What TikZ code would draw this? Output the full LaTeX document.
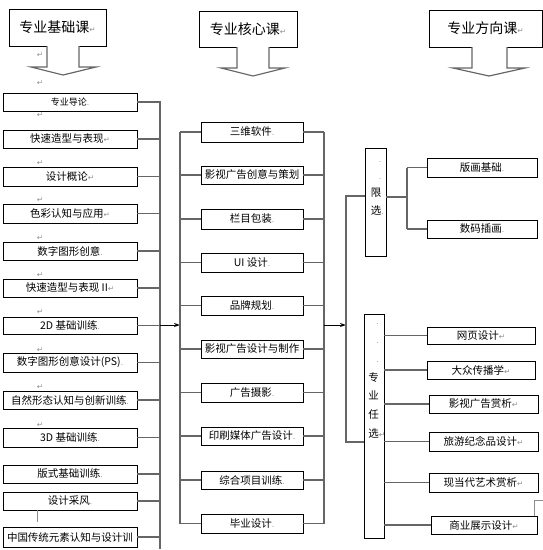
\documentclass[tikz,border=0pt]{standalone}
\usepackage{fontspec}
\setmainfont{Noto Sans CJK SC}
\newfontfamily\dvsfont{DejaVu Sans}
\usetikzlibrary{arrows.meta}
\definecolor{ln}{gray}{0.40}
\definecolor{mk}{gray}{0.55}
\newcommand{\rmk}{{\color{mk}\dvsfont\fontsize{7.5}{7.5}\selectfont ↵}}
\newcommand{\dmk}{{\color{mk}\dvsfont\fontsize{7.5}{7.5}\selectfont .}}
\newcommand{\dline}{\makebox[10.5pt][r]{\dmk}}
\begin{document}
\begin{tikzpicture}[x=1pt,y=-1pt,
  hdr/.style={draw, line width=0.8pt, inner sep=0pt, font=\fontsize{14}{14}\selectfont},
  bx/.style={draw, line width=0.8pt, inner sep=0pt, font=\fontsize{10.5}{10.5}\selectfont},
  vtxt/.style={inner sep=0pt, align=center, font=\fontsize{10.5}{17.3}\selectfont},
  conn/.style={draw=ln, line width=1.4pt},
  arr/.style={-{Stealth[length=6pt,width=4pt]}},
  blk/.style={draw=ln, line width=1.2pt, fill=white, line join=miter},
  pmark/.style={inner sep=0pt}]
\useasboundingbox (0,0) rectangle (543,550);

% headers
\node[hdr, minimum width=97pt, minimum height=37pt] (H1) at (57.5,27.5) {专业基础课\rmk};
\node[hdr, minimum width=98pt, minimum height=36pt] (H2) at (248,29) {专业核心课\rmk};
\node[hdr, minimum width=113pt, minimum height=37pt] (H3) at (485.5,28.5) {专业方向课\rmk};

% block arrows
\draw[blk] (47,46) -- (47,67) -- (31,67) -- (63,75) -- (96,67) -- (79,67) -- (79,46);
\draw[blk] (237,47) -- (237,68) -- (221,68) -- (253,76) -- (285,68) -- (269,68) -- (269,47);
\draw[blk] (472,47) -- (472,68) -- (453,68) -- (489,76) -- (525,68) -- (507,68) -- (507,47);

% left column
\begin{scope}[every node/.style={bx, minimum width=134pt, minimum height=18pt}]
\node[font=\fontsize{9}{9}\selectfont] (L1) at (70,102) {专业导论\dmk};
\node (L2) at (70,139) {快速造型与表现\rmk};
\node[minimum height=19pt] (L3) at (70,176.5) {设计概论\rmk};
\node[minimum height=19pt] (L4) at (70,213.5) {色彩认知与应用\rmk};
\node (L5) at (70,251) {数字图形创意\dmk};
\node (L6) at (70,288) {快速造型与表现 II\rmk};
\node[minimum height=17pt] (L7) at (70,325.5) {2D 基础训练\dmk};
\node[minimum height=19pt] (L8) at (70,362.5) {数字图形创意设计(PS)\dmk};
\node (L9) at (70,400) {自然形态认知与创新训练\dmk};
\node[minimum height=19pt] (L10) at (70,437.5) {3D 基础训练\dmk};
\node (L11) at (70,474) {版式基础训练\dmk};
\node (L12) at (70,501) {设计采风\dmk};
\node[minimum height=20pt] (L13) at (70,537) {中国传统元素认知与设计训};
\end{scope}

% paragraph marks between left boxes
\foreach \y [count=\k] in {55,83,115,163,200,238,275,312,350,387,425}
  \node[pmark] (pm\k) at (40,\y) {\rmk};

% middle column
\begin{scope}[every node/.style={bx, minimum width=102pt, minimum height=19pt}]
\node[minimum height=20pt] (M1) at (252,132) {三维软件\dmk};
\node[minimum height=18pt] (M2) at (252,175) {影视广告创意与策划};
\node[minimum height=20pt] (M3) at (252,219) {栏目包装\dmk};
\node (M4) at (252,262.5) {UI 设计\dmk};
\node (M5) at (252,305.5) {品牌规划\dmk};
\node[minimum height=18pt] (M6) at (252,349) {影视广告设计与制作};
\node (M7) at (252,392.5) {广告摄影\dmk};
\node[minimum height=18pt] (M8) at (252,436) {印刷媒体广告设计\dmk};
\node[minimum height=18pt] (M9) at (252,480) {综合项目训练\dmk};
\node (M10) at (252,523.5) {毕业设计\dmk};
\end{scope}

% right column
\node[bx, minimum width=21pt, minimum height=108pt] (X) at (375.5,202) {};
\node[vtxt] (XT) at (376,188) {\dline\\\dline\\限\\选\rlap{\dmk}};
\node[bx, minimum width=110pt, minimum height=19pt] (V1) at (482,167.5) {版画基础\dmk};
\node[bx, minimum width=110pt, minimum height=18pt] (V2) at (482,229) {数码插画\dmk};

\node[bx, minimum width=20pt, minimum height=224pt] (Y) at (374,426) {};
\node[vtxt, font=\fontsize{10.5}{18.7}\selectfont] (YT) at (373.5,381) {\dline\\\dline\\\dline\\专\\业\\任\\选\rlap{\rmk}};

\begin{scope}[every node/.style={bx, minimum height=18pt}]
\node[minimum width=108pt, minimum height=17pt] (R1) at (481,335.5) {网页设计\rmk};
\node[minimum width=108pt] (R2) at (481,370) {大众传播学\rmk};
\node[minimum width=109pt] (R3) at (483.5,404) {影视广告赏析\rmk};
\node[minimum width=109pt, minimum height=19pt] (R4) at (483.5,441.5) {旅游纪念品设计\rmk};
\node[minimum width=109pt, minimum height=19pt] (R5) at (483.5,482.5) {现当代艺术赏析\rmk};
\node[minimum width=106pt] (R6) at (484,525) {商业展示设计\rmk};
\end{scope}

% bus coordinates
\coordinate (lbB) at (160,549);
\coordinate (la) at (160,325);
\coordinate (mlT) at (180,132);
\coordinate (mlB) at (180,523.5);
\coordinate (mrT) at (324,132);
\coordinate (mrB) at (324,523.5);
\coordinate (ma) at (324,325);
\coordinate (rT) at (346,196);
\coordinate (rB) at (346,442);
\coordinate (xb) at (407,197);

% left bus
\draw[conn] (L1.east) -- (L1.east -| la) -- (lbB);
\foreach \i in {2,...,13} \draw[conn] (L\i.east) -- (L\i.east -| la);
\draw[conn, draw=black, line width=1pt, arr] (la) -- (la -| mlT);

% middle buses
\draw[conn] (mlT) -- (mlB);
\draw[conn] (mrT) -- (mrB);
\foreach \i in {1,...,10} {
  \draw[conn] (M\i.west -| mlT) -- (M\i.west);
  \draw[conn] (M\i.east) -- (M\i.east -| mrT);
}
\draw[conn, draw=black, line width=1pt, arr] (ma) -- (ma -| rT);

% right bus
\draw[conn] (X.west |- rT) -- (rT) -- (rB) -- (Y.west |- rB);
\draw[conn] (X.east |- xb) -- (xb);
\draw[conn] (V1.west -| xb) -- (V2.west -| xb);
\draw[conn] (V1.west -| xb) -- (V1.west);
\draw[conn] (V2.west -| xb) -- (V2.west);
\foreach \i in {1,...,6} \draw[conn] (Y.east |- R\i.west) -- (R\i.west);

% small stray lines
\draw[draw=mk, line width=0.8pt] ([xshift=-33pt]L12.south) -- ++(0,12);
\draw[draw=mk, line width=0.6pt] ([xshift=50pt]R6.north) -- ++(0,-15) -- ++(9,0);
\end{tikzpicture}
\end{document}
